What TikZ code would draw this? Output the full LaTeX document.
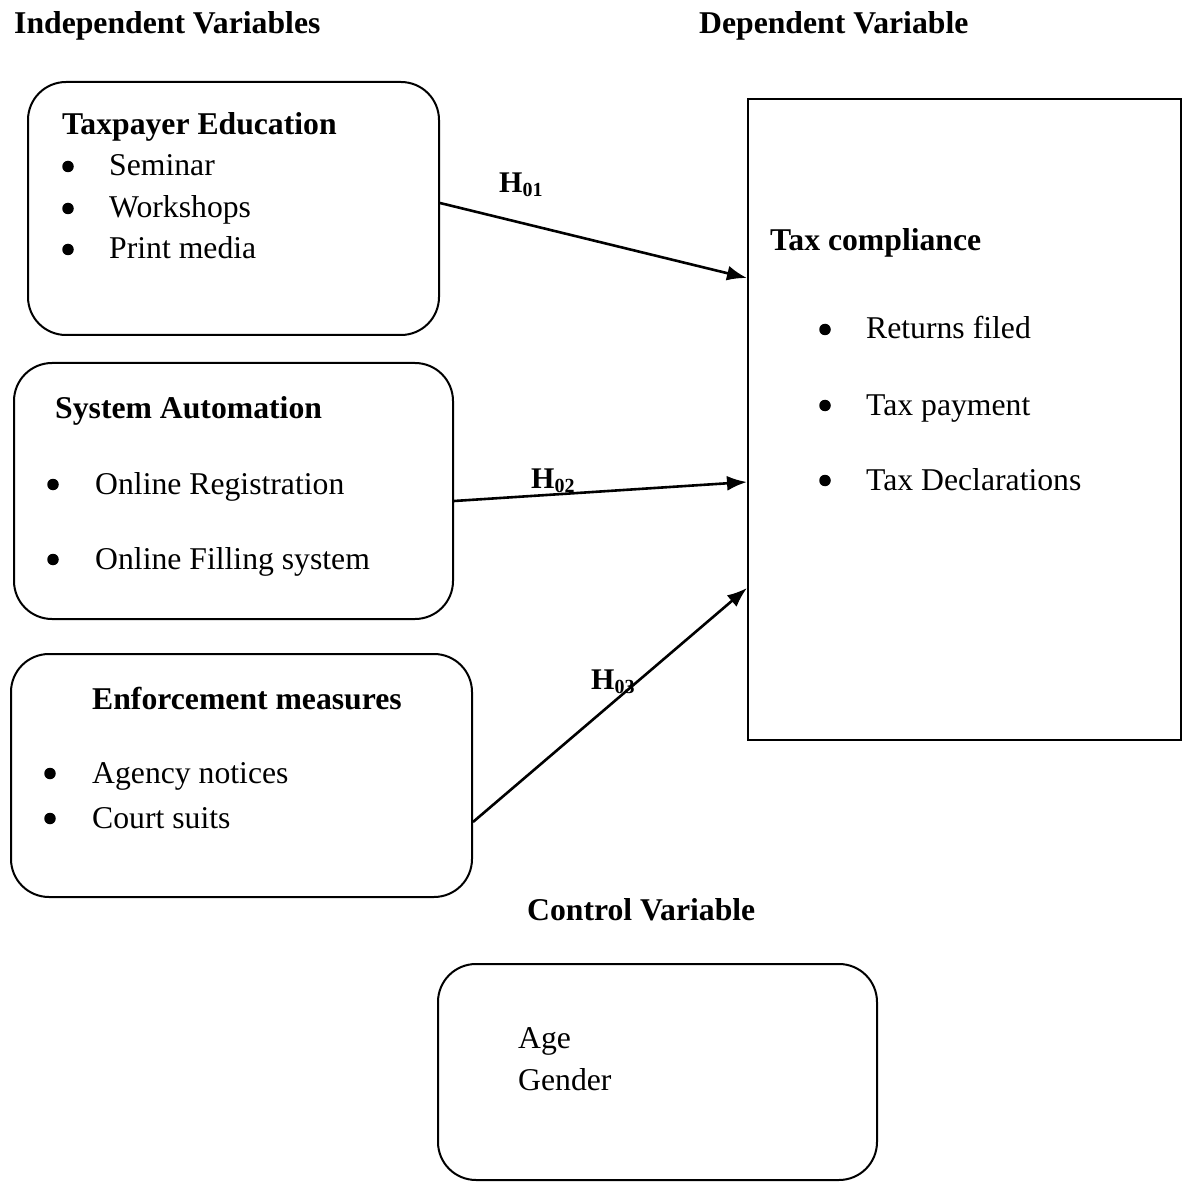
\documentclass[tikz,border=0pt]{standalone}
\usepackage{fontspec}
\setmainfont{Liberation Serif}
\usetikzlibrary{arrows.meta}
\tikzset{
 rbox/.style={draw, line width=2pt, rounded corners=38pt, inner sep=0pt},
 sbox/.style={draw, line width=2pt, inner sep=0pt},
 txt/.style={anchor=base west, inner sep=0pt, font=\fontsize{31.7}{38}\selectfont},
 bld/.style={anchor=base west, inner sep=0pt, font=\fontsize{31.7}{38}\selectfont\bfseries},
 bul/.style={circle, fill, inner sep=0pt, minimum size=11.5pt, yshift=9.5pt},
 hyp/.style={anchor=base west, inner sep=0pt, font=\fontsize{30}{32}\selectfont\bfseries},
 arr/.style={line width=2.6pt, -{Latex[length=20pt,width=15pt]}},
}
\newcommand{\hsub}[1]{H\raisebox{-4pt}{\fontsize{20}{20}\selectfont #1}}
\begin{document}
\begin{tikzpicture}[x=1pt,y=-1pt]
\useasboundingbox (0,0) rectangle (1184,1182);
% headers
\node[bld] (hind) at (14,34) {Independent Variables};
\node[bld] (hdep) at (699,34) {Dependent Variable};
% boxes
\node[rbox, minimum width=411pt, minimum height=253pt] (b1) at (233.5,208.5) {};
\node[rbox, minimum width=439pt, minimum height=256pt] (b2) at (233.5,491) {};
\node[rbox, minimum width=461pt, minimum height=243pt] (b3) at (241.5,775.5) {};
\node[sbox, minimum width=433pt, minimum height=641pt] (dv) at (964.5,419.5) {};
\node[rbox, minimum width=439pt, minimum height=216pt] (cv) at (657.5,1072) {};
% box 1
\node[bld] (t1) at (62,135) {Taxpayer Education};
\node[bul] (b1a) at (68,176) {};
\node[txt] (t1a) at (109,176) {Seminar};
\node[bul] (b1b) at (68,218) {};
\node[txt] (t1b) at (109,218) {Workshops};
\node[bul] (b1c) at (68,259) {};
\node[txt] (t1c) at (109,259) {Print media};
% box 2
\node[bld] (t2) at (55,418) {System Automation};
\node[bul] (b2a) at (53,494) {};
\node[txt] (t2a) at (95,494) {Online Registration};
\node[bul] (b2b) at (53,569) {};
\node[txt] (t2b) at (95,569) {Online Filling system};
% box 3
\node[bld] (t3) at (92,709) {Enforcement measures};
\node[bul] (b3a) at (50,783) {};
\node[txt] (t3a) at (92,783) {Agency notices};
\node[bul] (b3b) at (50,828) {};
\node[txt] (t3b) at (92,828) {Court suits};
% dependent
\node[bld] (td) at (770,251) {Tax compliance};
\node[bul] (bda) at (825,339) {};
\node[txt] (tda) at (866,339) {Returns filed};
\node[bul] (bdb) at (825,415) {};
\node[txt] (tdb) at (866,415) {Tax payment};
\node[bul] (bdc) at (825,490) {};
\node[txt] (tdc) at (866,490) {Tax Declarations};
% control
\node[bld] (tc) at (527,920) {Control Variable};
\node[txt] (tca) at (518,1048) {Age};
\node[txt] (tcb) at (518,1090) {Gender};
% arrows
\draw[arr] (b1.east |- 0,203) -- (dv.west |- 0,278);
\draw[arr] (b2.east |- 0,501) -- (dv.west |- 0,482);
\draw[arr] (b3.east |- 0,822) -- (dv.west |- 0,588);
% hypothesis labels
\node[hyp] (h1) at (499,193) {\hsub{01}};
\node[hyp] (h2) at (531,488) {\hsub{02}};
\node[hyp] (h3) at (591,689) {\hsub{03}};
\end{tikzpicture}
\end{document}
